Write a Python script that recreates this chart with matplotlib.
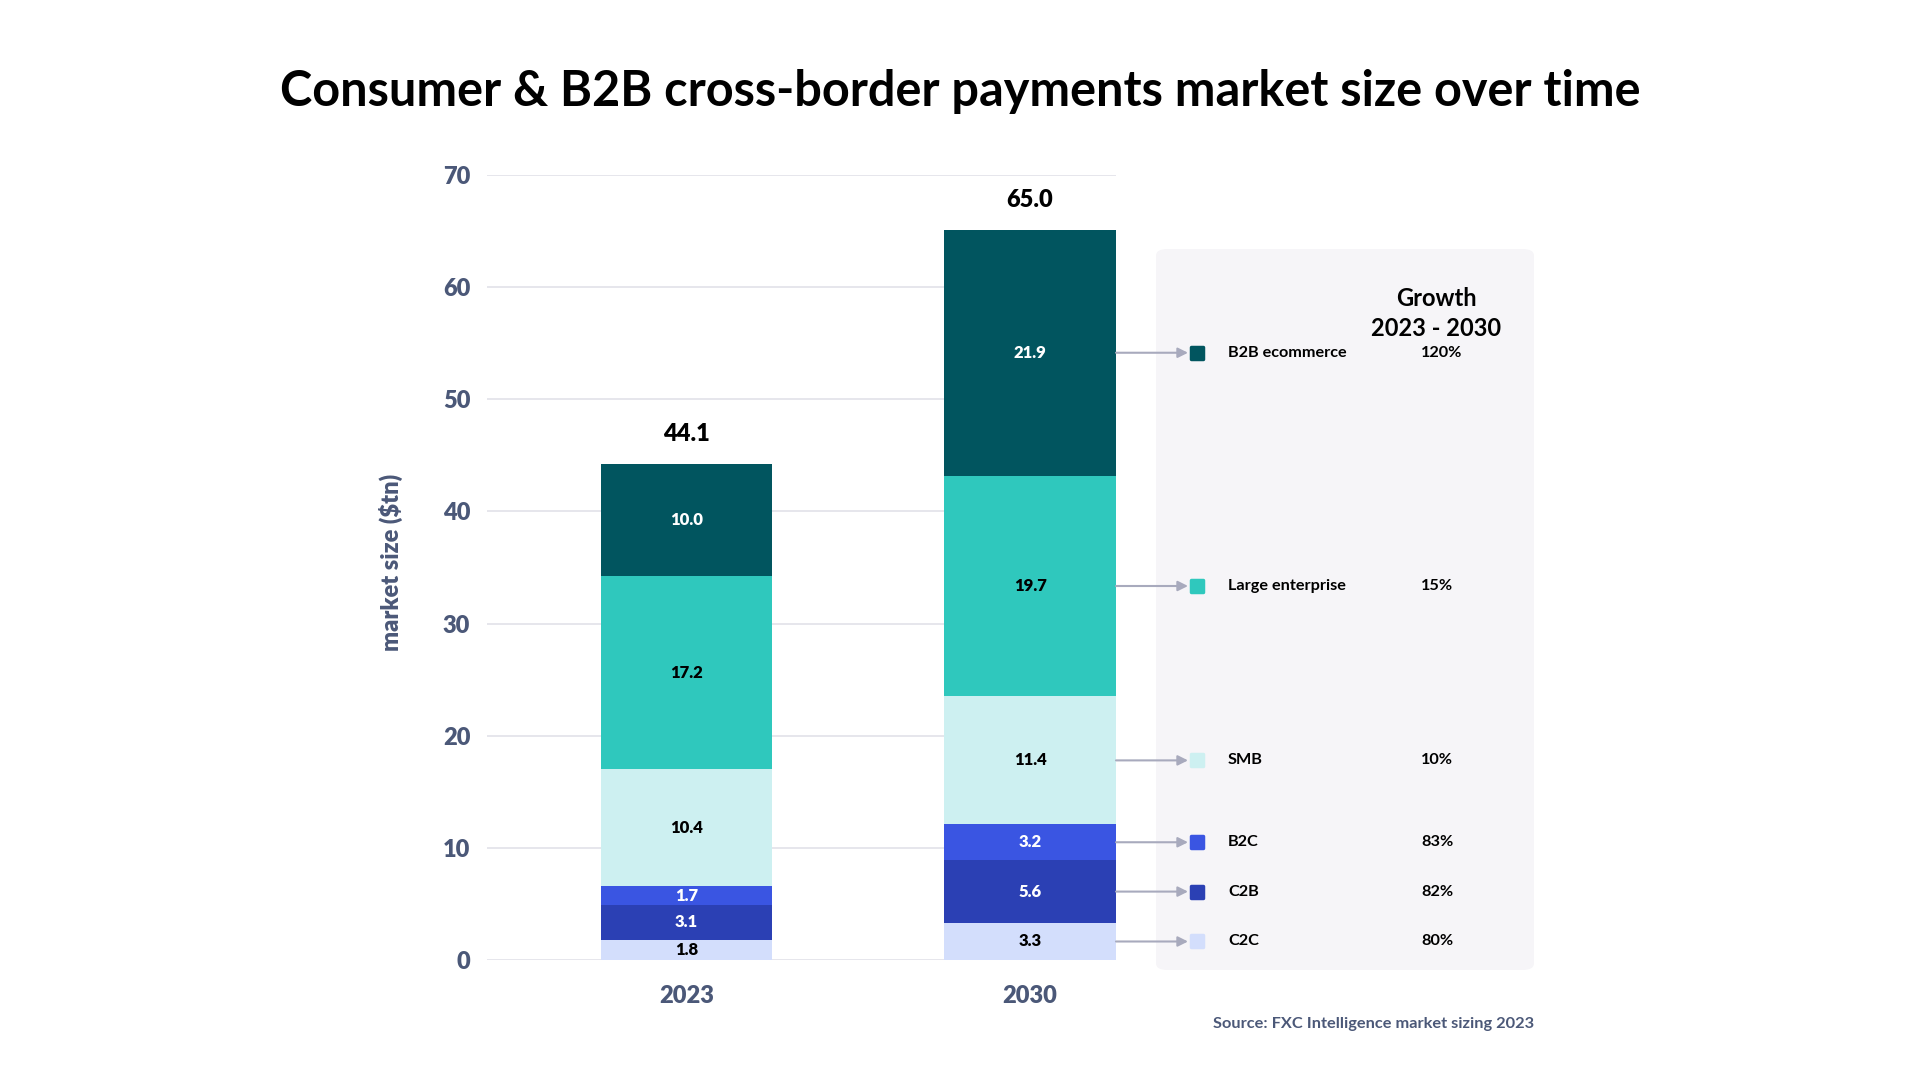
import matplotlib
matplotlib.use('Agg')
import matplotlib.pyplot as plt
from matplotlib.markers import MarkerStyle
from matplotlib.patches import FancyBboxPatch
from matplotlib.transforms import blended_transform_factory

plt.rcParams['font.family'] = ['Lato', 'DejaVu Sans']
plt.rcParams['font.weight'] = 'bold'

# data, bottom segment first
years = ['2023', '2030']
segments = ['C2C', 'C2B', 'B2C', 'SMB', 'Large enterprise', 'B2B ecommerce']
values_2023 = [1.8, 3.1, 1.7, 10.4, 17.2, 10.0]
values_2030 = [3.3, 5.6, 3.2, 11.4, 19.7, 21.9]
totals = [44.1, 65.0]
growth = ['80%', '82%', '83%', '10%', '15%', '120%']

colors = ['#D3DEFC', '#2B40B4', '#3A55E2', '#CDF0F1', '#2FC8BD', '#01555F']
text_colors = ['black', 'white', 'white', 'black', 'black', 'white']
slate = '#4B5878'

W, H = 1920, 1080
fig = plt.figure(figsize=(19.2, 10.8), dpi=100, facecolor='white')
ax = fig.add_axes([487 / W, 1 - 960 / H, 629 / W, 785 / H])
ax.patch.set_visible(False)

# grey panel behind the legend
panel = FancyBboxPatch((1156 / W, 1 - 970 / H), 378 / W, 721 / H,
                       boxstyle='round,pad=0,rounding_size=0.006',
                       transform=fig.transFigure, facecolor='#F6F5F8',
                       edgecolor='none', zorder=0)
fig.add_artist(panel)

x = [0, 1]
bottoms = [0.0, 0.0]
centers_2030 = []
for i, name in enumerate(segments):
    vals = [values_2023[i], values_2030[i]]
    bars = ax.bar(x, vals, bottom=bottoms, width=0.5, color=colors[i], zorder=3)
    ax.bar_label(bars, labels=[f'{v:.1f}' for v in vals], label_type='center',
                 color=text_colors[i], fontsize=12, fontweight='heavy')
    centers_2030.append(bottoms[1] + vals[1] / 2)
    bottoms = [bottoms[0] + vals[0], bottoms[1] + vals[1]]

for xi, top, t in zip(x, bottoms, totals):
    ax.annotate(f'{t:.1f}', xy=(xi, top), xytext=(0, 14), textcoords='offset points',
                ha='center', va='bottom', fontsize=17, fontweight='heavy', color='black')

ax.set_xlim(-0.581, 1.25)
ax.set_ylim(0, 70)
ax.set_yticks(range(0, 71, 10))
ax.set_xticks(x)
ax.set_xticklabels(years)
ax.grid(axis='y', color='#E6E6EC', linewidth=1.4, zorder=0)
ax.set_axisbelow(True)
for s in ax.spines.values():
    s.set_visible(False)
ax.tick_params(axis='y', length=0, pad=12, labelsize=17, labelcolor=slate)
ax.tick_params(axis='x', length=0, pad=18, labelsize=17, labelcolor=slate)
for lbl in ax.get_xticklabels() + ax.get_yticklabels():
    lbl.set_fontweight('heavy')
ax.set_ylabel('market size ($tn)', fontsize=17, color=slate, fontweight='heavy')
ax.yaxis.set_label_coords(-0.133, 0.506)

# legend with arrows from the 2030 bar
blend = blended_transform_factory(fig.transFigure, ax.transData)
for i, name in enumerate(segments):
    y = centers_2030[i]
    ax.annotate('', xy=(1188 / W, y), xycoords=blend, xytext=(1.25, y), textcoords='data',
                arrowprops=dict(arrowstyle='-|>,head_length=0.6,head_width=0.3',
                                color='#A8AABD', lw=1.5, shrinkA=0, shrinkB=0),
                annotation_clip=False)
    ax.plot([1197 / W], [y], transform=blend, marker=MarkerStyle('s', joinstyle='round'),
            ms=8.5, color=colors[i], mec=colors[i], mew=2.5, clip_on=False, zorder=5)
    ax.text(1228 / W, y, name, transform=blend, va='center', ha='left',
            fontsize=11.7, fontweight='bold', color='black')
    ax.text(1421 / W, y, growth[i], transform=blend, va='center', ha='left',
            fontsize=11.7, fontweight='bold', color='black')

fig.text(1436 / W, 1 - 298 / H, 'Growth', ha='center', va='center', fontsize=17, color='black')
fig.text(1436 / W, 1 - 329 / H, '2023 - 2030', ha='center', va='center', fontsize=17, color='black')

fig.text(0.5, 1 - 92 / H, 'Consumer & B2B cross-border payments market size over time',
         ha='center', va='center', fontsize=35, fontweight='bold', color='black')
fig.text(1534 / W, 1 - 1024 / H, 'Source: FXC Intelligence market sizing 2023',
         ha='right', va='center', fontsize=11.8, color=slate)

fig.savefig('out.png', dpi=100, facecolor='white')
